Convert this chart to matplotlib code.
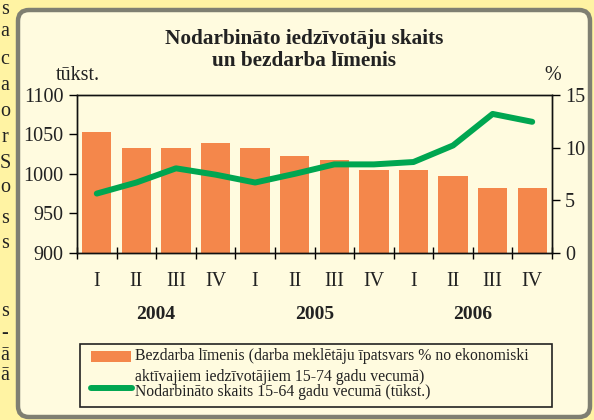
import matplotlib.pyplot as plt
import numpy as np
from matplotlib.patches import FancyBboxPatch, Rectangle
from matplotlib.lines import Line2D

# === Data ===
quarters = ['I', 'II', 'III', 'IV'] * 3
years = ['2004', '2005', '2006']
unemployment_pct = [11.5, 10.0, 10.0, 10.4, 10.0, 9.2, 8.8, 7.9, 7.9, 7.3, 6.2, 6.2]
employed_thous = [975, 989, 1007, 999, 989, 1000, 1012, 1012, 1015, 1036, 1076, 1066]

title = 'Nodarbināto iedzīvotāju skaits\nun bezdarba līmenis'
bar_label = ['Bezdarba līmenis (darba meklētāju īpatsvars % no ekonomiski',
             'aktīvajiem iedzīvotājiem 15-74 gadu vecumā)']
line_label = 'Nodarbināto skaits 15-64 gadu vecumā (tūkst.)'
side_letters = ['s', 'a', 'c', 'a', 'o', 'r', 'S', 'o', 's', 's', 's', '-', 'ā', 'ā']
side_letter_y = [9, 32, 60, 85, 112, 137, 163, 188, 218, 243, 312, 333, 355, 375]

# === Colours ===
outer_bg = '#FFF3A3'
panel_bg = '#FFFBDF'
border = '#7F7F72'
orange = '#F4874B'
green = '#00A651'
ink = '#222222'

plt.rcParams['font.family'] = ['Liberation Serif', 'DejaVu Serif']
fs = 14.5

W, H = 594, 420
fig = plt.figure(figsize=(W / 100, H / 100), dpi=100, facecolor=outer_bg)

def fx(px):
    return px / W

def fy(py):
    return 1 - py / H

# === Rounded panel (in inches, so corners stay round) ===
panel = FancyBboxPatch((0.18, (H - 417) / 100), 5.72, 4.07,
                       boxstyle='round,pad=0,rounding_size=0.11',
                       transform=fig.dpi_scale_trans, facecolor=panel_bg,
                       edgecolor=border, linewidth=3.2, zorder=-5)
fig.patches.append(panel)

# === Cut-off letters from the neighbouring column ===
for ch, y in zip(side_letters, side_letter_y):
    fig.text(fx(5), fy(y), ch, ha='center', va='center', fontsize=fs, color=ink, zorder=-4)

# === Axes ===
ax = fig.add_axes([fx(77), fy(252.7), fx(552) - fx(77), fy(95) - fy(252.7)])
ax2 = ax.twinx()

x = np.arange(len(quarters))
ax2.bar(x, unemployment_pct, width=0.74, color=orange, zorder=1)
ax2.set_ylim(0, 15)
ax2.set_yticks([0, 5, 10, 15])

ax.plot(x, employed_thous, color=green, linewidth=4.3, solid_capstyle='round', zorder=5)
ax.set_ylim(900, 1100)
ax.set_yticks([900, 950, 1000, 1050, 1100])
ax.set_xlim(-0.5, len(quarters) - 0.5)

# line above bars
ax.set_zorder(ax2.get_zorder() + 1)
ax.patch.set_visible(False)
ax2.patch.set_visible(False)

ax.set_xticks(np.arange(-0.5, len(quarters), 1))
ax.set_xticklabels([])
ax.set_xticks(x, minor=True)
ax.set_xticklabels(quarters, minor=True)
ax.tick_params(axis='x', which='major', direction='inout', length=8, width=1)
ax.tick_params(axis='x', which='minor', length=0, pad=14, labelsize=fs, labelcolor=ink)
ax.tick_params(axis='y', direction='out', length=6, width=1, labelsize=fs, labelcolor=ink)
ax2.tick_params(axis='y', direction='out', length=6, width=1, labelsize=fs, labelcolor=ink)

for a in (ax, ax2):
    for s in a.spines.values():
        s.set_linewidth(1)
        s.set_color('#111111')

# year labels
for i, yr in enumerate(years):
    ax.text(i * 4 + 1.5, -0.395, yr, transform=ax.get_xaxis_transform(),
            ha='center', va='center', fontsize=14, fontweight='bold', color=ink)

# units
fig.text(fx(78), fy(75), 'tūkst.', ha='center', va='center', fontsize=fs, color=ink)
fig.text(fx(553), fy(75), '%', ha='center', va='center', fontsize=fs, color=ink)

# title
fig.text(fx(304), fy(50), title, ha='center', va='center', fontsize=15.3,
         fontweight='bold', color=ink, linespacing=1.15)

# === Legend box (drawn by hand) ===
fig.patches.append(Rectangle((fx(80), fy(407)), fx(472), fy(344) - fy(407),
                             transform=fig.transFigure, facecolor='none',
                             edgecolor=ink, linewidth=1.2))
fig.patches.append(Rectangle((fx(91), fy(362)), fx(40), fy(351) - fy(362),
                             transform=fig.transFigure, facecolor=orange, edgecolor='none'))
fig.lines.append(Line2D([fx(91), fx(132)], [fy(388), fy(388)], transform=fig.transFigure,
                        color=green, linewidth=4.3, solid_capstyle='round'))
fig.text(fx(135), fy(356), bar_label[0], ha='left', va='center', fontsize=11.3, color=ink)
fig.text(fx(135), fy(377), bar_label[1], ha='left', va='center', fontsize=11.3, color=ink)
fig.text(fx(135), fy(392), line_label, ha='left', va='center', fontsize=11.3, color=ink)

plt.savefig('out.png', dpi=100, facecolor=outer_bg)
